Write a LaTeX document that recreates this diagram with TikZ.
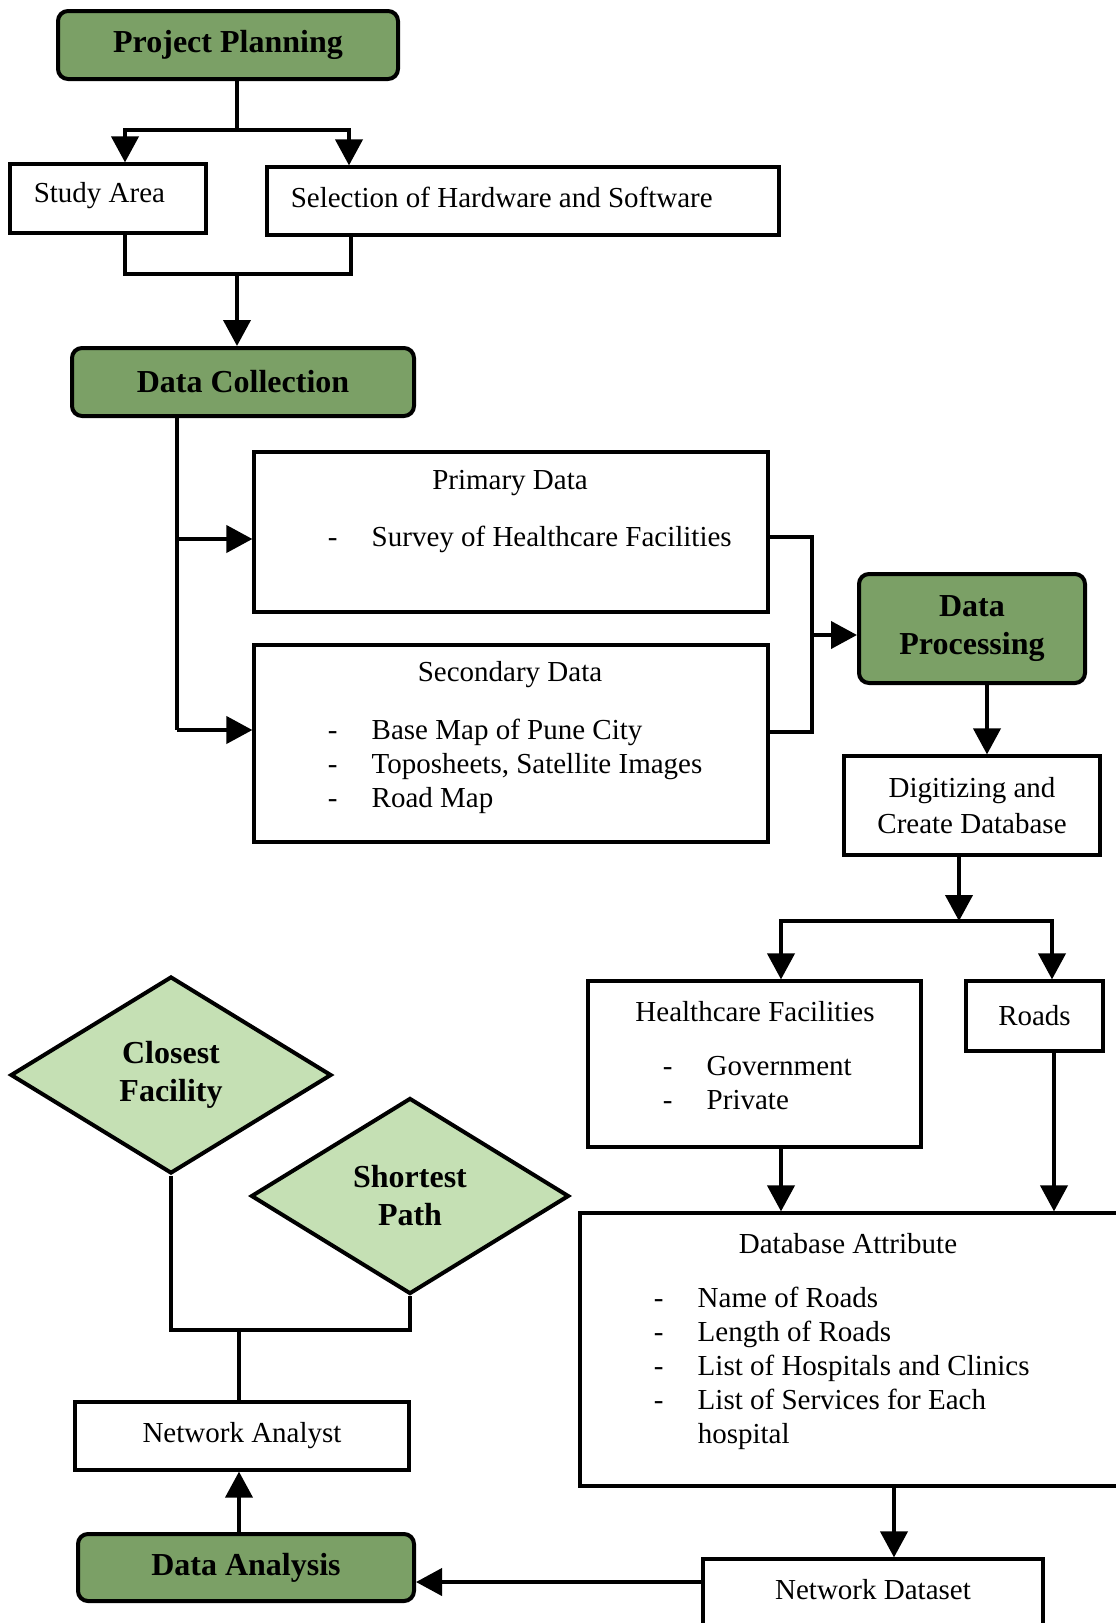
\documentclass[tikz,border=0pt]{standalone}
\usepackage{fontspec}
\setmainfont{Liberation Serif}
\usetikzlibrary{arrows.meta,shapes.geometric}

\definecolor{stepgreen}{RGB}{123,160,102}
\definecolor{choicegreen}{RGB}{197,224,180}

\tikzset{every picture/.style={line width=0.75pt}}
\tikzset{
  headbox/.style={draw,rounded corners=5pt,line width=2pt,fill=stepgreen,inner sep=0pt,align=center,font=\fontsize{16}{19}\selectfont\bfseries},
  plainbox/.style={draw,line width=1.6pt,inner sep=0pt,align=center,font=\fontsize{14.5}{17}\selectfont},
  choicebox/.style={diamond,draw,line width=2pt,fill=choicegreen,inner sep=0pt,align=center,font=\fontsize{16}{19}\selectfont\bfseries},
  txt/.style={inner sep=0pt,font=\fontsize{14.5}{17}\selectfont},
  link/.style={line width=2pt},
  linkarrow/.style={line width=2pt,-{Triangle[length=13pt,width=13.5pt]}},
}

\begin{document}
\begin{tikzpicture}[x=0.5pt,y=0.5pt,yscale=-1,xscale=1]
\useasboundingbox (0,0) rectangle (1115,1623);

%Rounded Rect
\node (plan) [headbox,minimum width=170pt,minimum height=34pt] at (228,45) {Project Planning};
%Shape: Rectangle
\node (area) [plainbox,minimum width=98pt,minimum height=34.5pt] at (108,198.5) {};
\node (hwsw) [plainbox,minimum width=256pt,minimum height=34pt] at (523,201) {};
%Rounded Rect
\node (collect) [headbox,minimum width=171pt,minimum height=34pt] at (243,382) {Data Collection};
%Shape: Rectangle
\node (primary) [plainbox,minimum width=257pt,minimum height=80pt] at (511,532) {};
\node (secondary) [plainbox,minimum width=257pt,minimum height=98.5pt] at (511,743.5) {};
%Rounded Rect
\node (process) [headbox,minimum width=113pt,minimum height=54.5pt] at (972,628.5) {Data\\Processing};
%Shape: Rectangle
\node (digit) [plainbox,minimum width=128pt,minimum height=49.5pt,font=\fontsize{14.5}{18}\selectfont] at (972,805.5) {Digitizing and\\Create Database};
\node (health) [plainbox,minimum width=166.5pt,minimum height=83pt] at (754.5,1064) {};
\node (roads) [plainbox,minimum width=68.5pt,minimum height=35pt] at (1034.5,1016) {Roads};
\node (attrib) [plainbox,minimum width=275pt,minimum height=136.5pt] at (855,1349.5) {};
\node (dataset) [plainbox,minimum width=170pt,minimum height=40.5pt] at (873,1599.5) {};
%Rounded Rect
\node (analysis) [headbox,minimum width=168pt,minimum height=33.5pt] at (246,1567.5) {Data Analysis};
%Shape: Rectangle
\node (analyst) [plainbox,minimum width=167pt,minimum height=34pt] at (242,1436) {Network Analyst};
%Shape: Diamond
\node (closest) [choicebox,minimum width=160.5pt,minimum height=98.5pt] at (171,1075) {Closest\\Facility};
\node (shortest) [choicebox,minimum width=159pt,minimum height=98pt] at (410,1196) {Shortest\\Path};

% Text Node
\node (areatxt) [txt,anchor=west] at (33,196) {Study Area};
\node (hwswtxt) [txt,anchor=west] at (290,197) {Selection of Hardware and Software};
\node (primtitle) [txt] at (510,483) {Primary Data};
\node (primlist) [txt,anchor=base west] at (327,546) {\begin{tabular}[t]{@{}p{22pt}@{}l@{}}
- & Survey of Healthcare Facilities
\end{tabular}};
\node (sectitle) [txt] at (510,675) {Secondary Data};
\node (seclist) [txt,anchor=base west] at (327,739) {\begin{tabular}[t]{@{}p{22pt}@{}l@{}}
- & Base Map of Pune City\\
- & Toposheets, Satellite Images\\
- & Road Map
\end{tabular}};
\node (healthtitle) [txt] at (755,1012) {Healthcare Facilities};
\node (healthlist) [txt,anchor=base west] at (662,1075) {\begin{tabular}[t]{@{}p{22pt}@{}l@{}}
- & Government\\
- & Private
\end{tabular}};
\node (attribtitle) [txt] at (848,1244) {Database Attribute};
\node (attriblist) [txt,anchor=base west] at (653,1307) {\begin{tabular}[t]{@{}p{22pt}@{}l@{}}
- & Name of Roads\\
- & Length of Roads\\
- & List of Hospitals and Clinics\\
- & List of Services for Each\\
  & hospital
\end{tabular}};
\node (datasettxt) [txt] at (873,1590) {Network Dataset};

%Straight Lines
\coordinate (j1) at (237,130);
\draw [link] (plan.south -| j1) -- (j1);
\draw [linkarrow] (j1) -| ([xshift=8.5pt]area.north);
\draw [linkarrow] (j1) -| ([xshift=-87pt]hwsw.north);
%Straight Lines
\coordinate (j2) at (237,274);
\draw [link] ([xshift=8.5pt]area.south) |- (j2) -| ([xshift=-86pt]hwsw.south);
\draw [linkarrow] (j2) -- (collect.north -| j2);
%Straight Lines
\coordinate (j3) at (177,539);
\coordinate (j4) at (177,730);
\draw [link] (collect.south -| j3) -- (j4);
\draw [linkarrow] (j3) -- (primary.west |- j3);
\draw [linkarrow] (j4) -- (secondary.west |- j4);
%Straight Lines
\coordinate (b1) at (812,537);
\coordinate (b2) at (812,732);
\coordinate (j5) at (812,635);
\draw [link] (primary.east |- b1) -- (b1) -- (b2) -- (secondary.east |- b2);
\draw [linkarrow] (j5) -- (process.west |- j5);
%Straight Lines
\draw [linkarrow] ([xshift=7.5pt]process.south) -- ([xshift=7.5pt]digit.north);
%Straight Lines
\coordinate (j7) at (959,921);
\draw [linkarrow] ([xshift=-6.5pt]digit.south) -- (j7);
\draw [linkarrow] (j7) -| ([xshift=13.25pt]health.north);
\draw [linkarrow] (j7) -| ([xshift=8.75pt]roads.north);
%Straight Lines
\draw [linkarrow] ([xshift=13.25pt]health.south) coordinate (h1) -- (h1 |- attrib.north);
\draw [linkarrow] ([xshift=9.75pt]roads.south) coordinate (r1) -- (r1 |- attrib.north);
\draw [linkarrow] ([xshift=19.5pt]attrib.south) coordinate (d1) -- (d1 |- dataset.north);
%Straight Lines
\draw [linkarrow] ([yshift=-8.75pt]dataset.west) coordinate (n1) -- (n1 -| analysis.east);
\draw [linkarrow] ([xshift=-3.5pt]analysis.north) coordinate (a1) -- (a1 |- analyst.south);
%Straight Lines
\coordinate (j8) at (239,1330);
\draw [link] (analyst.north -| j8) -- (j8);
\draw [link] (closest.south) |- (j8) -| (shortest.south);

\end{tikzpicture}
\end{document}
